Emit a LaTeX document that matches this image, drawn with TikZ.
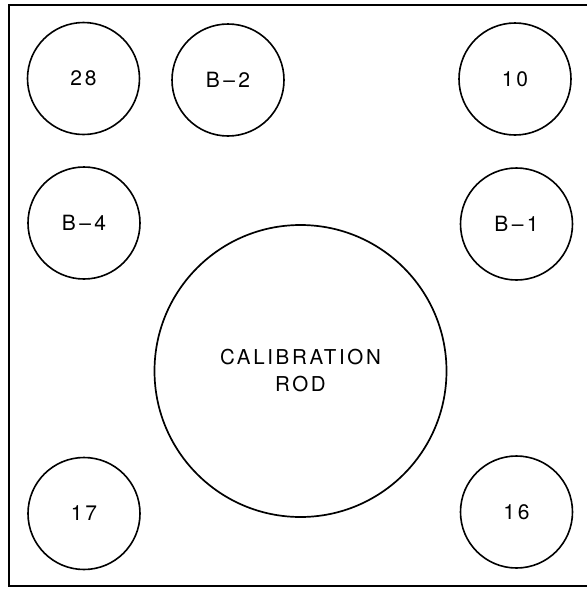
\documentclass[tikz,border=0pt]{standalone}
\usepackage{fontspec}
\setmainfont[LetterSpace=13]{TeX Gyre Heros}
\begin{document}
\begin{tikzpicture}[x=1pt,y=-1pt,
  hole/.style={circle,draw,line width=1.6pt,inner sep=0pt,minimum size=112pt,font=\fontsize{21}{24}\selectfont},
  rod/.style={circle,draw,line width=1.7pt,inner sep=0pt,minimum size=292pt,font=\fontsize{20.5}{27}\selectfont,align=center}]
\useasboundingbox (0,0) rectangle (587,590);
\draw[line width=2.6pt] (590,5) -- (9,5) -- (9,586) -- (590,586);
\node[hole] (n28) at (83.5,78.5) {28};
\node[hole] (b2) at (228,80) {B\,–\,2};
\node[hole] (n10) at (515,79) {10};
\node[hole] (b4) at (84,223) {B\,–\,4};
\node[hole] (b1) at (516.5,224) {B\,–\,1};
\node[hole] (n17) at (84,513.5) {17};
\node[hole] (n16) at (516.5,512) {16};
\node[rod] (cal) at (300.5,371) {CALIBRATION\\ROD};
\end{tikzpicture}
\end{document}
